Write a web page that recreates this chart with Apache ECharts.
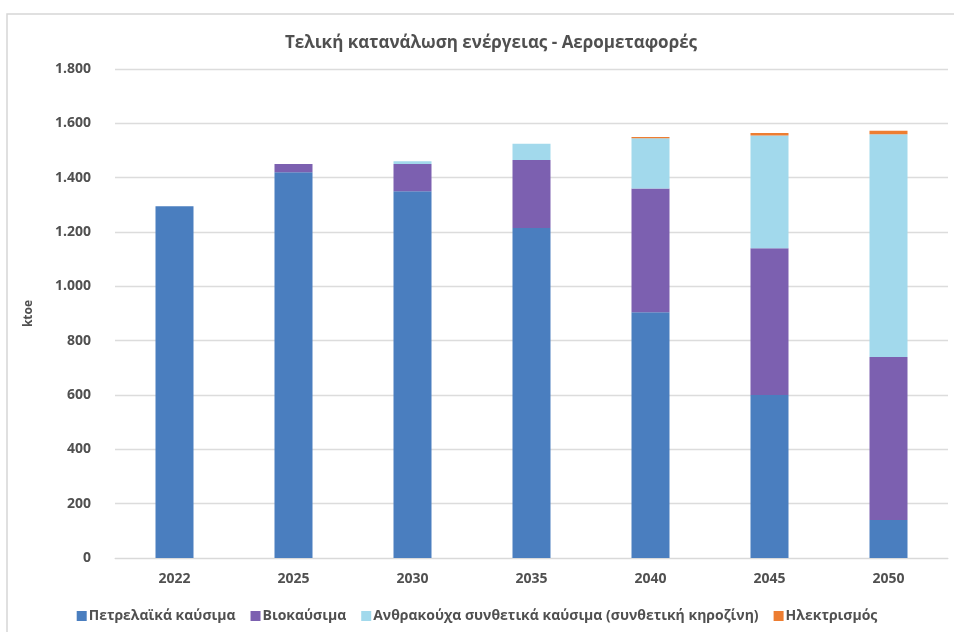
<!DOCTYPE html>
<html><head><meta charset="utf-8">
<script src="https://cdn.jsdelivr.net/npm/echarts@6/dist/echarts.min.js"></script>
<style>html,body{margin:0;padding:0;background:#fff}#c{width:954px;height:632px}</style>
</head><body><div id="c"></div>
<script>
const categories = ['2022','2025','2030','2035','2040','2045','2050'];
const petroleum = [1295, 1420, 1350, 1215, 905, 600, 140];
const biofuels = [0, 30, 100, 250, 455, 540, 600];
const synthetic = [0, 0, 10, 60, 185, 415, 820];
const electricity = [0, 0, 0, 0, 5, 9, 13];
const seriesNames = ['Πετρελαϊκά καύσιμα','Βιοκαύσιμα','Ανθρακούχα συνθετικά καύσιμα (συνθετική κηροζίνη)','Ηλεκτρισμός'];
const colors = ['#4a7ebf','#7c60b0','#a2d9ec','#ed7d31'];
const yTicks = {min:0, max:1800, interval:200};

const font = '"Open Sans", "Noto Sans", sans-serif';
const chart = echarts.init(document.getElementById('c'));
const dataSets = [petroleum, biofuels, synthetic, electricity];
chart.setOption({
  animation:false,
  textStyle:{fontFamily:font},
  graphic:[{type:'rect',shape:{x:7,y:14,width:960,height:640},style:{fill:'none',stroke:'#d6d6d6',lineWidth:1.5},silent:true}],
  title:{text:'Τελική κατανάλωση ενέργειας - Αερομεταφορές',left:486,textAlign:'center',top:30,
    textStyle:{fontFamily:font,fontSize:17,fontWeight:'bold',color:'#505050'}},
  grid:{left:115,right:6,top:69,bottom:74,containLabel:false},
  legend:{bottom:4,left:'center',itemWidth:10,itemHeight:10,itemGap:15,icon:'rect',
    textStyle:{fontFamily:font,fontSize:14,fontWeight:'bold',color:'#505050',padding:[0,0,0,-3]}},
  xAxis:{type:'category',data:categories,axisTick:{show:false},
    axisLine:{lineStyle:{color:'#d9d9d9'}},
    axisLabel:{margin:14,fontFamily:font,fontSize:14,fontWeight:'bold',color:'#505050'}},
  yAxis:{type:'value',min:yTicks.min,max:yTicks.max,interval:yTicks.interval,
    name:'ktoe',nameLocation:'middle',nameGap:80,nameRotate:90,
    nameTextStyle:{fontFamily:font,fontSize:12,fontWeight:'bold',color:'#505050'},
    splitLine:{lineStyle:{color:'#dcdcdc',width:1.3}},
    axisLabel:{margin:24,fontFamily:font,fontSize:14,fontWeight:'bold',color:'#505050',
      formatter:v=>v.toString().replace(/\B(?=(\d{3})+(?!\d))/g,'.')}},
  series: seriesNames.map((n,i)=>({name:n,type:'bar',stack:'t',barWidth:38,
    itemStyle:{color:colors[i]},data:dataSets[i]}))
});
</script></body></html>
